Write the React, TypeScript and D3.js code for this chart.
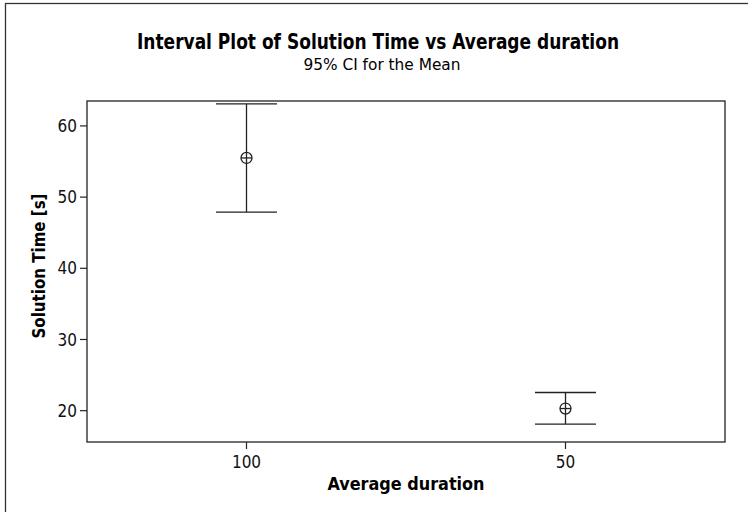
import React from 'react';
import * as d3 from 'd3';

// values (95% CI for the mean)
const categories = ['100', '50'];
const means = [55.5, 20.3];
const lowerCI = [47.9, 18.1];
const upperCI = [63.1, 22.55];
const yTicks = [20, 30, 40, 50, 60];

const W = 748;
const H = 512;
const left = 87, right = 725, top = 101, bottom = 442;
const ink = '#222';
const font = '"DejaVu Sans Condensed", "DejaVu Sans", sans-serif';

export default function App() {
  const x = d3.scalePoint<string>().domain(categories).range([left, right]).padding(0.5);
  const y = d3.scaleLinear().domain([15.6, 63.5]).range([bottom, top]);
  const capHalf = 30.5;
  const r = 5.5;

  return (
    <svg width={W} height={H} style={{ position: 'absolute', left: 0, top: 0 }} fontFamily={font}>
      <rect x={0} y={0} width={W} height={H} fill="white" />
      {/* outer frame, runs off the right and bottom */}
      <rect x={5.5} y={3.5} width={W + 10} height={H + 10} fill="none" stroke="#333" strokeWidth={1.3} />

      <text x={378} y={49} textAnchor="middle" fontSize={20.5} fontWeight="bold" fill="#000"
        textLength={482} lengthAdjust="spacingAndGlyphs">
        Interval Plot of Solution Time vs Average duration
      </text>
      <text x={382} y={69.5} textAnchor="middle" fontSize={16.5} fill="#000"
        textLength={157} lengthAdjust="spacingAndGlyphs">
        95% CI for the Mean
      </text>

      {/* plot frame */}
      <rect x={left} y={top} width={right - left} height={bottom - top} fill="none" stroke={ink} strokeWidth={1.3} />

      {/* y axis ticks */}
      {yTicks.map(t => (
        <g key={t}>
          <line x1={left - 7} x2={left} y1={y(t)} y2={y(t)} stroke={ink} strokeWidth={1.2} />
          <text x={left - 10} y={y(t)} dy="0.36em" textAnchor="end" fontSize={17} fill="#111">{t}</text>
        </g>
      ))}

      {/* x axis ticks */}
      {categories.map(c => (
        <g key={c}>
          <line x1={x(c)} x2={x(c)} y1={bottom} y2={bottom + 7} stroke={ink} strokeWidth={1.2} />
          <text x={x(c)} y={468} textAnchor="middle" fontSize={17} fill="#111">{c}</text>
        </g>
      ))}

      <text x={406} y={490} textAnchor="middle" fontSize={17} fontWeight="bold" fill="#000"
        textLength={157} lengthAdjust="spacingAndGlyphs">
        Average duration
      </text>
      <text transform="translate(45,266) rotate(-90)" textAnchor="middle" fontSize={17} fontWeight="bold" fill="#000"
        textLength={145} lengthAdjust="spacingAndGlyphs">
        Solution Time [s]
      </text>

      {/* intervals */}
      {categories.map((c, i) => {
        const cx = x(c) as number;
        const cy = y(means[i]);
        return (
          <g key={c} stroke={ink} strokeWidth={1.3} fill="none">
            <line x1={cx} x2={cx} y1={y(upperCI[i])} y2={y(lowerCI[i])} />
            <line x1={cx - capHalf} x2={cx + capHalf} y1={y(upperCI[i])} y2={y(upperCI[i])} />
            <line x1={cx - capHalf} x2={cx + capHalf} y1={y(lowerCI[i])} y2={y(lowerCI[i])} />
            <circle cx={cx} cy={cy} r={r} fill="white" />
            <line x1={cx - r} x2={cx + r} y1={cy} y2={cy} />
            <line x1={cx} x2={cx} y1={cy - r} y2={cy + r} />
          </g>
        );
      })}
    </svg>
  );
}
